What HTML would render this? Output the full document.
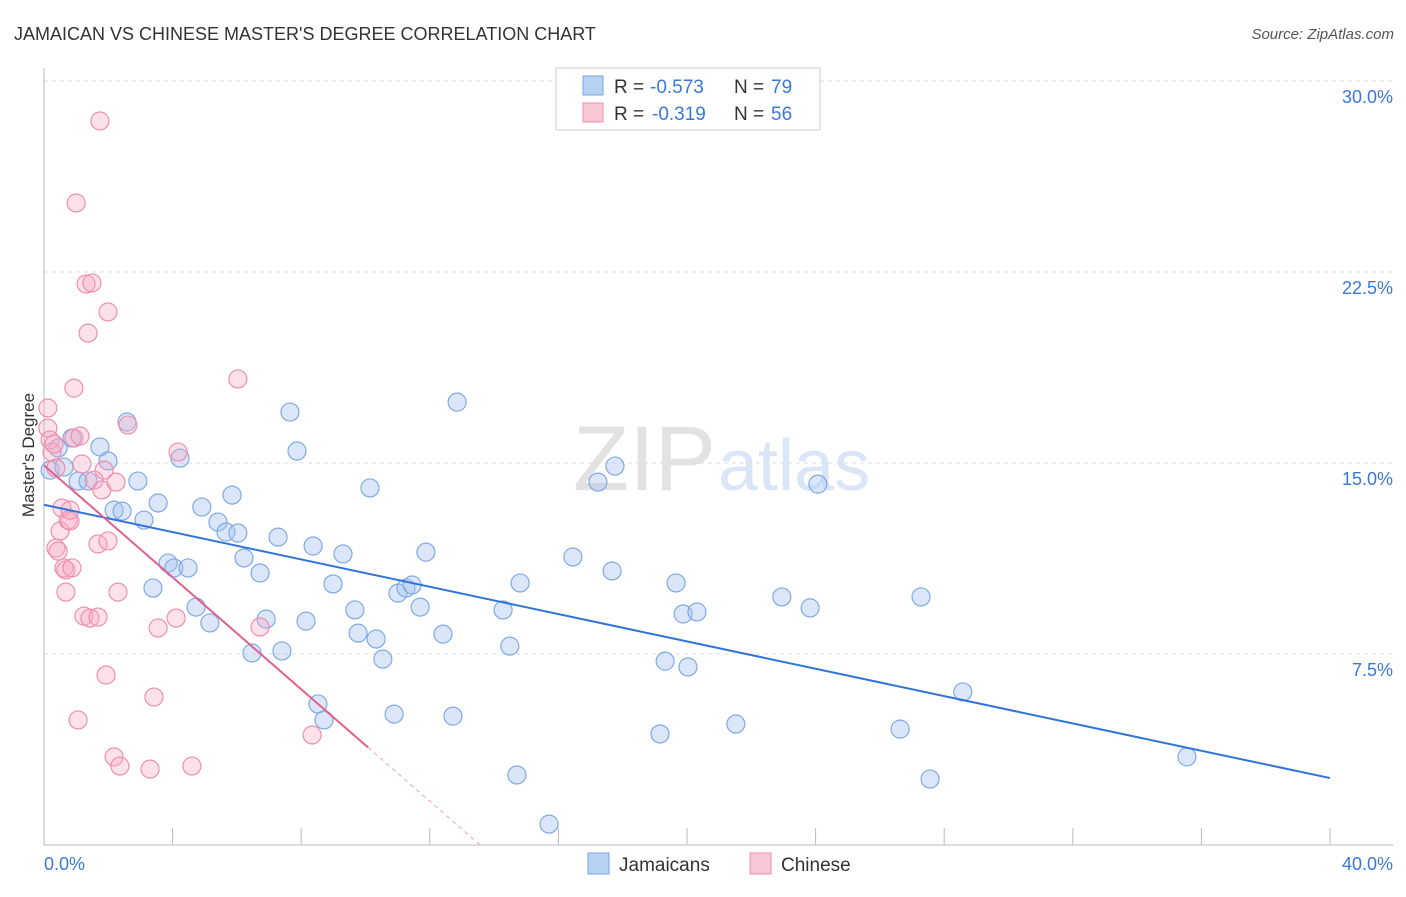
<!DOCTYPE html>
<html><head><meta charset="utf-8"><style>
body{margin:0;background:#fff;font-family:"Liberation Sans",sans-serif}
svg text{font-family:"Liberation Sans",sans-serif}
</style></head><body>
<svg id="chart" width="1406" height="892" xmlns="http://www.w3.org/2000/svg">
<text x="14" y="40" font-size="18" fill="#333">JAMAICAN VS CHINESE MASTER'S DEGREE CORRELATION CHART</text>
<text x="1394" y="39" font-size="15" fill="#555" font-style="italic" text-anchor="end">Source: ZipAtlas.com</text>
<text x="716" y="490" font-size="92" fill="#e2e2e2" text-anchor="end" font-family="Liberation Serif">ZIP</text>
<text x="718" y="490" font-size="72" fill="#d8e6f7">atlas</text>
<text transform="translate(34,455) rotate(-90)" font-size="17" fill="#333" text-anchor="middle">Master's Degree</text>
<g id="grid"></g><g id="marks"></g><g id="lines"></g>
<g>
<rect x="556" y="68" width="264" height="62" fill="#fff" stroke="#ccc"/>
<rect x="583" y="76" width="20" height="19" fill="#b8d2f4" stroke="#7aa6e6"/>
<rect x="583" y="103" width="20" height="19" fill="#f9c6d6" stroke="#ee8fb0"/>
<text x="614" y="93" font-size="19" fill="#333">R =</text>
<text x="650" y="93" font-size="19" fill="#3a78d8">-0.573</text>
<text x="734" y="93" font-size="19" fill="#333">N =</text>
<text x="771" y="93" font-size="19" fill="#3a78d8">79</text>
<text x="614" y="120" font-size="19" fill="#333">R =</text>
<text x="652" y="120" font-size="19" fill="#3a78d8">-0.319</text>
<text x="734" y="120" font-size="19" fill="#333">N =</text>
<text x="771" y="120" font-size="19" fill="#3a78d8">56</text>
</g>
<g>
<rect x="588" y="853" width="21" height="21" fill="#b8d2f4" stroke="#7aa6e6"/>
<text x="619" y="871" font-size="19" fill="#333">Jamaicans</text>
<rect x="750" y="853" width="21" height="21" fill="#f9c6d6" stroke="#ee8fb0"/>
<text x="781" y="871" font-size="19" fill="#333">Chinese</text>
</g>
</svg>
<script>
const blueX=[0.19,0.44,0.62,0.87,1.06,1.37,1.74,1.99,2.18,2.43,2.58,2.92,3.11,3.39,3.55,3.86,4.04,4.23,4.48,4.73,4.91,5.16,5.41,5.66,5.85,6.03,6.22,6.47,6.72,6.91,7.28,7.40,7.65,7.87,8.15,8.37,8.52,8.71,8.99,9.30,9.67,9.77,10.14,10.33,10.54,10.89,11.01,11.26,11.45,11.70,11.88,12.41,12.72,12.85,14.28,14.49,14.71,14.81,15.71,16.45,17.23,17.67,17.76,19.16,19.32,19.66,19.88,20.03,20.31,21.52,22.95,23.83,24.07,26.63,27.28,27.56,28.58,35.55];
const blueY=[14.72,15.59,14.84,15.98,14.29,14.29,15.63,15.08,13.15,13.11,16.61,14.29,12.76,10.09,13.43,11.07,10.88,15.19,10.88,9.34,13.27,8.72,12.68,12.29,13.74,12.25,11.27,7.54,10.68,8.87,12.09,7.62,17.00,15.47,8.79,11.74,5.54,4.91,10.25,11.43,9.23,8.32,14.02,8.09,7.30,5.14,9.89,10.09,10.21,9.34,11.50,8.28,5.06,17.39,9.23,7.81,2.75,10.29,0.82,11.31,14.25,10.76,14.88,4.36,7.22,10.29,9.07,6.99,9.15,4.75,9.74,9.31,14.17,4.55,9.74,2.59,6.01,3.46];
const pinkX=[0.12,0.12,0.19,0.25,0.31,0.37,0.37,0.44,0.50,0.56,0.62,0.68,0.68,0.75,0.81,0.81,0.87,0.93,0.93,1.00,1.06,1.12,1.18,1.24,1.31,1.37,1.43,1.49,1.56,1.68,1.68,1.74,1.80,1.87,1.93,1.99,1.99,2.18,2.24,2.30,2.36,2.61,3.30,3.42,3.55,4.11,4.17,4.60,6.03,6.72,8.34];
const pinkY=[17.16,16.37,15.90,15.43,15.74,14.80,11.66,11.54,12.33,13.23,10.88,10.80,9.93,12.76,12.72,13.15,10.88,17.94,15.98,25.21,4.91,16.06,14.96,8.99,22.03,20.10,8.91,22.07,14.33,11.82,8.95,28.43,13.94,14.72,6.67,11.94,20.93,3.46,14.25,9.93,3.10,16.49,2.98,5.81,8.52,8.91,15.43,3.10,18.30,8.56,4.32];
const yTicks=[7.5,15.0,22.5,30.0];
const xTicks=[0,4,8,12,16,20,24,28,32,36,40];
const NS="http://www.w3.org/2000/svg";
const sx=v=>44+v*1286/40, sy=v=>845-v*191/7.5;
function mk(tag,attrs,parent){const e=document.createElementNS(NS,tag);for(const k in attrs)e.setAttribute(k,attrs[k]);parent.appendChild(e);return e;}
const grid=document.getElementById('grid'),marks=document.getElementById('marks'),lines=document.getElementById('lines');
yTicks.forEach(t=>{
 const l=mk('line',{x1:44,x2:1393,y1:sy(t),y2:sy(t),stroke:'#ddd','stroke-dasharray':'4,4'},grid);
 
 
 const tx=mk('text',{x:1393,y:sy(t)+22,'font-size':18,fill:'#3a78d8','text-anchor':'end'},grid);
 tx.textContent=t.toFixed(1)+'%';
 
 
});
const ax=mk('line',{x1:44,x2:1393,y1:845,y2:845,stroke:'#bbb'},grid);


const ay=mk('line',{x1:44,x2:44,y1:68,y2:845,stroke:'#bbb'},grid);


xTicks.forEach(t=>{
 const l=mk('line',{x1:sx(t),x2:sx(t),y1:828,y2:845,stroke:'#bbb'},grid);
 
 
});
[[0,'0.0%','start',44],[40,'40.0%','end',1393]].forEach(d=>{
 const tx=mk('text',{x:d[3],y:870,'font-size':18,fill:'#3a78d8','text-anchor':d[2]},grid);
 tx.textContent=d[1];
 
 
});
function pts(X,Y,fill,stroke,name){X.forEach((x,i)=>{
 const c=mk('circle',{cx:sx(x),cy:sy(Y[i]),r:9,fill:fill,stroke:stroke,'stroke-width':1.2},marks);
 
 
});}
pts(blueX,blueY,'rgba(165,195,240,0.4)','#7fa9e6','jamaican-point');
pts(pinkX,pinkY,'rgba(245,170,195,0.35)','#ee8fb0','chinese-point');
function fit(X,Y){const n=X.length;let mx=0,my=0;X.forEach((x,i)=>{mx+=x;my+=Y[i]});mx/=n;my/=n;let sxy=0,sxx=0;X.forEach((x,i)=>{sxy+=(x-mx)*(Y[i]-my);sxx+=(x-mx)*(x-mx)});const b=sxy/sxx;return [my-b*mx,b];}
const [ba,bb]=fit(blueX,blueY);
const bl=mk('line',{x1:sx(0),y1:sy(ba),x2:sx(40),y2:sy(ba+bb*40),stroke:'#2f74d8','stroke-width':2},lines);


const [pa,pb]=fit(pinkX,pinkY);
const xe=10.08, x0=Math.min(40,-pa/pb);
const pl=mk('line',{x1:sx(0),y1:sy(pa),x2:sx(xe),y2:sy(pa+pb*xe),stroke:'#e0608e','stroke-width':2},lines);


const pd=mk('line',{x1:sx(xe),y1:sy(pa+pb*xe),x2:sx(x0),y2:sy(pa+pb*x0),stroke:'#eaa0bb','stroke-width':1,'stroke-dasharray':'4,4'},lines);


</script>
</body></html>
